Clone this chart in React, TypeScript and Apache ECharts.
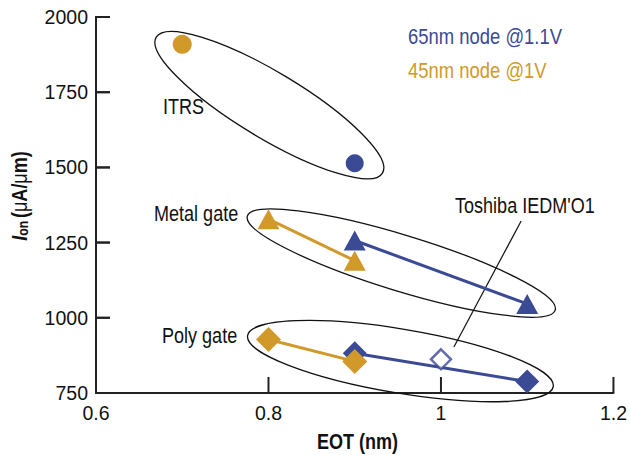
import React, { useEffect, useRef } from "react";
import * as echarts from "echarts";

// ---- data ----
const xTicks = [0.6, 0.8, 1.0, 1.2];
const yTicks = [750, 1000, 1250, 1500, 1750, 2000];

const blueMetalEOT = [0.9, 1.1];
const blueMetalIon = [1257, 1046];
const bluePolyEOT = [0.9, 1.1];
const bluePolyIon = [882, 788];
const blueItrsEOT = [0.9];
const blueItrsIon = [1514];
const toshibaEOT = [1.0];
const toshibaIon = [862];

const goldMetalEOT = [0.8, 0.9];
const goldMetalIon = [1328, 1190];
const goldPolyEOT = [0.8, 0.9];
const goldPolyIon = [928, 855];
const goldItrsEOT = [0.7];
const goldItrsIon = [1909];

// group ellipses (centres in data units)
const groupCenterEOT = [0.801, 0.954, 0.953];
const groupCenterIon = [1707, 1182, 856];
// leader line for Toshiba label (data units)
const leaderEOT = [1.015, 1.093];
const leaderIon = [903, 1322];

// ---- styling ----
const BLUE = "#3B4A94";
const GOLD = "#D1992A";
const AXIS = "#222222";
const ellipseGeom = [
  { rx: 132, ry: 33, deg: 31 },
  { rx: 161, ry: 28, deg: 17 },
  { rx: 155, ry: 32, deg: 9.5 },
];
const SANS = '"Liberation Sans", Arial, sans-serif';
const NARROW_SCALE = 0.82;

const zip = (xs: number[], ys: number[]) => xs.map((x, i) => [x, ys[i]]);

export default function App() {
  const ref = useRef<HTMLDivElement>(null);
  useEffect(() => {
    if (!ref.current) return;
    const chart = echarts.init(ref.current, undefined, { renderer: "svg" });

    const lineSeries = (data: number[][], color: string, symbol: string, size: any, z: number) => ({
      type: "line",
      data,
      symbol,
      symbolSize: size,
      z,
      lineStyle: { color, width: 3 },
      itemStyle: { color, borderWidth: 0 },
      emphasis: { disabled: true },
    });

    const ellipseData = groupCenterEOT.map((x, i) => [x, groupCenterIon[i], i]);

    const label = (t: string, x: number, y: number, fill: string, size = 22, align = "left", bold = false) => ({
      type: "text",
      x,
      y,
      z: 10,
      scaleX: NARROW_SCALE,
      style: {
        text: t,
        fill,
        fontFamily: SANS,
        fontSize: size,
        fontWeight: bold ? "bold" : "normal",
        align,
        verticalAlign: "middle",
        textAlign: align,
        textVerticalAlign: "middle",
      },
    });

    const textGraphics = [
      {
        type: "text",
        x: 19,
        y: 196,
        rotation: Math.PI / 2,
        scaleX: NARROW_SCALE,
        style: {
          text: "{i|I}{s|on} {b|(}{m|μ}{b|A/}{m|μ}{b|m)}",
          align: "center",
          verticalAlign: "middle",
          textAlign: "center",
          textVerticalAlign: "middle",
          rich: {
            i: { fontFamily: SANS, fontSize: 22, fontWeight: "bold", fontStyle: "italic", fill: "#111", color: "#111" },
            s: { fontFamily: SANS, fontSize: 15, fontWeight: "bold", fill: "#111", color: "#111", padding: [9, 0, 0, 0] },
            b: { fontFamily: SANS, fontSize: 22, fontWeight: "bold", fill: "#111", color: "#111" },
            m: { fontFamily: SANS, fontSize: 22, fill: "#111", color: "#111" },
          },
        },
      },
      label("ITRS", 163, 106, "#111"),
      label("Metal gate", 154, 213, "#111"),
      label("Poly gate", 162, 335, "#111"),
      label("Toshiba IEDM'O1", 455, 205, "#111"),
      label("65nm node @1.1V", 408, 36, BLUE, 22.5),
      label("45nm node @1V", 408, 70, GOLD, 22.5),
      label("EOT (nm)", 357.5, 441, "#111", 22, "center", true),
    ];

    chart.setOption({
      animation: false,
      grid: { left: 96, right: 12, top: 17, bottom: 62, containLabel: false },
      xAxis: {
        type: "value",
        min: xTicks[0],
        max: xTicks[xTicks.length - 1],
        interval: 0.2,
        axisLine: { show: true, lineStyle: { color: AXIS, width: 2 } },
        axisTick: { show: false },
        splitLine: { show: false },
        axisLabel: {
          fontFamily: SANS,
          fontSize: 19.5,
          color: "#111",
          margin: 10,
          formatter: (v: number) => String(Math.round(v * 10) / 10),
        },
      },
      yAxis: {
        type: "value",
        min: yTicks[0],
        max: yTicks[yTicks.length - 1],
        interval: 250,
        axisLine: { show: true, lineStyle: { color: AXIS, width: 2 } },
        axisTick: { show: false },
        splitLine: { show: false },
        axisLabel: { fontFamily: SANS, fontSize: 19.5, color: "#111", margin: 8, formatter: (v: number) => String(v) },
      },
      series: [
        {
          type: "custom",
          z: 1,
          silent: true,
          data: ellipseData,
          renderItem: (params: any, api: any) => {
            const p = api.coord([api.value(0), api.value(1)]);
            const g = ellipseGeom[api.value(2)];
            return {
              type: "ellipse",
              x: p[0],
              y: p[1],
              rotation: (-g.deg * Math.PI) / 180,
              shape: { cx: 0, cy: 0, rx: g.rx, ry: g.ry },
              style: { fill: "none", stroke: "#111", lineWidth: 1.3 },
            };
          },
        },
        {
          type: "custom",
          z: 1,
          silent: true,
          data: [[leaderEOT[0], leaderIon[0], leaderEOT[1], leaderIon[1]]],
          renderItem: (params: any, api: any) => {
            const a = api.coord([api.value(0), api.value(1)]);
            const b = api.coord([api.value(2), api.value(3)]);
            return {
              type: "line",
              shape: { x1: a[0], y1: a[1], x2: b[0], y2: b[1] },
              style: { stroke: "#111", lineWidth: 1.2 },
            };
          },
        },
        lineSeries(zip(blueMetalEOT, blueMetalIon), BLUE, "triangle", [22, 20], 3),
        lineSeries(zip(bluePolyEOT, bluePolyIon), BLUE, "diamond", 24, 3),
        lineSeries(zip(blueItrsEOT, blueItrsIon), BLUE, "circle", 18, 3),
        {
          type: "scatter",
          data: zip(toshibaEOT, toshibaIon),
          symbol: "diamond",
          symbolSize: 20,
          z: 4,
          itemStyle: { color: "#fff", borderColor: BLUE, borderWidth: 2.5 },
          emphasis: { disabled: true },
        },
        lineSeries(zip(goldMetalEOT, goldMetalIon), GOLD, "triangle", [22, 20], 5),
        lineSeries(zip(goldPolyEOT, goldPolyIon), GOLD, "diamond", 25, 5),
        lineSeries(zip(goldItrsEOT, goldItrsIon), GOLD, "circle", 19, 5),
      ],
      graphic: textGraphics,
    });

    // tick marks positioned through the chart's own scales
    const tickGraphics: any[] = [];
    xTicks.forEach((v) => {
      const p = chart.convertToPixel({ gridIndex: 0 }, [v, yTicks[0]]) as number[];
      tickGraphics.push({
        type: "rect",
        z: 20,
        shape: { x: p[0] - 1, y: p[1] - 16, width: 2, height: 16 },
        style: { fill: AXIS },
      });
    });
    const comb: number[][] = [];
    yTicks.forEach((v) => {
      const p = chart.convertToPixel({ gridIndex: 0 }, [xTicks[0], v]) as number[];
      comb.push([p[0], p[1]], [p[0] + 14, p[1]], [p[0], p[1]]);
      tickGraphics.push({
        type: "rect",
        z: 20,
        shape: { x: p[0], y: p[1] - 1, width: 14, height: 2 },
        style: { fill: AXIS },
      });
    });
    tickGraphics.push({
      type: "polyline",
      z: 21,
      shape: { points: comb },
      style: { stroke: AXIS, lineWidth: 2, fill: "none" },
    });
    chart.setOption({ graphic: [...textGraphics, ...tickGraphics] });

    return () => chart.dispose();
  }, []);
  return <div ref={ref} style={{ width: 630, height: 455, position: "absolute", left: 0, top: 0 }} />;
}
